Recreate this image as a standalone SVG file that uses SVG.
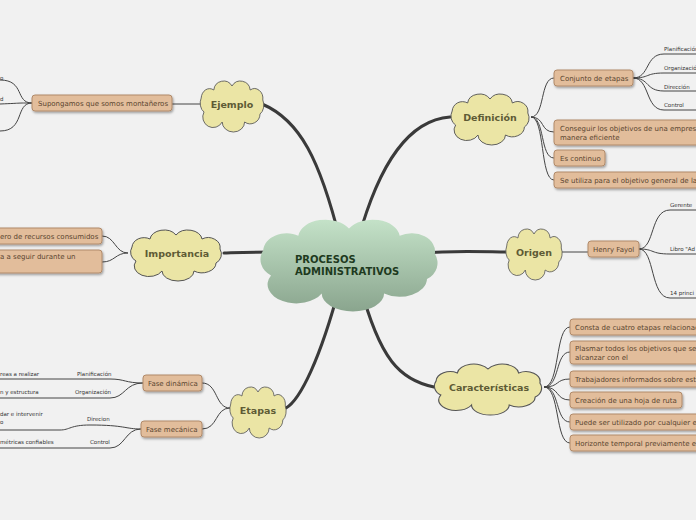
<svg xmlns="http://www.w3.org/2000/svg" width="696" height="520" viewBox="0 0 696 520">
<defs>
<linearGradient id="cg" x1="0" y1="0" x2="0" y2="1"><stop offset="0" stop-color="#c4e2c8"/><stop offset="1" stop-color="#8aa58e"/></linearGradient>
<filter id="sh" x="-10%" y="-20%" width="120%" height="150%"><feDropShadow dx="1" dy="1.5" stdDeviation="0.8" flood-color="#000" flood-opacity="0.35"/></filter>
<path id="cloud" d="M-40,8 A10,10 0 0 1 -44,-6 A12,10 0 0 1 -26,-14 A14,10 0 0 1 0,-18 A14,10 0 0 1 26,-14 A12,10 0 0 1 44,-4 A10,10 0 0 1 40,10 A14,10 0 0 1 18,18 A16,10 0 0 1 -14,18 A14,10 0 0 1 -40,8 Z"/>
</defs>
<style>
.bg{fill:#f1f1f1}
.cl{fill:#ebe5a5;stroke:#555;stroke-width:1}
.ct{font-family:"DejaVu Sans",sans-serif;font-weight:bold;font-size:9.5px;fill:#5e5b35;text-anchor:middle}
.bx{fill:#e2bd9b;stroke:#b08a6a;stroke-width:1;filter:url(#sh)}
.bt{font-family:"DejaVu Sans",sans-serif;font-size:7px;fill:#5a4530}
.lf{font-family:"DejaVu Sans",sans-serif;font-size:5.5px;fill:#333}
.c{fill:none;stroke:#444;stroke-width:1}
.m{fill:none;stroke:#3a3a3a;stroke-width:3;stroke-linecap:round}
</style>
<rect class="bg" width="696" height="520"/>
<g id="connectors">
<path class="m" d="M340,240 C320,160 300,120 262,104"/>
<path class="m" d="M358,240 C380,160 410,120 450,117"/>
<path class="m" d="M420,253 C460,250 490,252 506,252"/>
<path class="m" d="M275,252 C240,252 230,253 224,253"/>
<path class="m" d="M340,285 C320,360 300,400 286,408"/>
<path class="m" d="M360,285 C380,360 400,380 434,387"/>
<path class="c" d="M200,104 H172"/>
<path class="c" d="M32,103 C15,103 25,80 0,80 M32,103 C15,103 25,103 0,104 M32,103 C15,103 25,131 0,131"/>
<path class="c" d="M531,117 C545,117 540,78 554,78 M531,117 C545,117 540,132 554,132 M531,117 C545,117 540,158 554,158 M531,117 C545,117 540,180 554,180"/>
<path class="c" d="M633,78 C650,78 645,54 664,54 H700 M633,78 C650,78 645,73 664,73 H700 M633,78 C650,78 645,91 664,91 H700 M633,78 C650,78 645,110 664,110 H700"/>
<path class="c" d="M562,252 H588"/>
<path class="c" d="M639,249 C655,249 650,210 670,210 H700 M639,249 C655,249 650,254 670,254 H700 M639,249 C655,249 650,298 670,298 H700"/>
<path class="c" d="M128,253 C115,253 115,236 102,236 M128,253 C115,253 115,262 102,262"/>
<path class="c" d="M230,408 C215,408 218,383 202,383 M230,408 C215,408 218,429 202,429"/>
<path class="c" d="M143,383 C125,383 125,379 110,379 H0 M143,383 C125,383 125,398 110,398 H0 M141,429 C125,429 125,425 90,425 C70,425 70,430 60,430 H0 M141,429 C125,429 125,448 110,448 H0"/>
<path class="c" d="M544,387 C560,387 555,327 570,327 M544,387 C560,387 555,352 570,352 M544,387 C560,387 555,379 570,379 M544,387 C560,387 555,400 570,400 M544,387 C560,387 555,422 570,422 M544,387 C560,387 555,443 570,443"/>
</g>
<g id="center"><use href="#cloud" transform="translate(349,261) scale(1.95,1.8)" fill="url(#cg)"/>
<text x="295" y="263" font-family="DejaVu Sans,sans-serif" font-weight="bold" font-size="10" fill="#1e3a1e">PROCESOS</text>
<text x="295" y="275" font-family="DejaVu Sans,sans-serif" font-weight="bold" font-size="10" fill="#1e3a1e">ADMINISTRATIVOS</text></g>
<g id="ejemplo"><use href="#cloud" class="cl" transform="translate(232,104) scale(0.7,1)"/><text class="ct" x="232" y="108">Ejemplo</text></g>
<g id="definicion"><use href="#cloud" class="cl" transform="translate(490,117) scale(0.86,1)"/><text class="ct" x="490" y="121">Definición</text></g>
<g id="origen"><use href="#cloud" class="cl" transform="translate(534,252) scale(0.62,1)"/><text class="ct" x="534" y="256">Origen</text></g>
<g id="importancia"><use href="#cloud" class="cl" transform="translate(176,253) scale(1,1)"/><text class="ct" x="177" y="257">Importancia</text></g>
<g id="etapas"><use href="#cloud" class="cl" transform="translate(258,410) scale(0.62,1)"/><text class="ct" x="258" y="414">Etapas</text></g>
<g id="caracteristicas"><use href="#cloud" class="cl" transform="translate(488,387) scale(1.18,1)"/><text class="ct" x="489" y="391">Características</text></g>
<g id="supongamos"><rect class="bx" x="32" y="95" width="140" height="16" rx="3"/><text class="bt" x="38" y="106">Supongamos que somos montañeros</text></g>
<g id="ej-leaves"><text class="lf" x="0" y="80">o</text><text class="lf" x="0" y="101">d</text></g>
<g id="conjunto"><rect class="bx" x="554" y="70" width="79" height="16" rx="3"/><text class="bt" x="560" y="81">Conjunto de etapas</text></g>
<g id="etapas-def"><text class="lf" x="664" y="51">Planificación</text><text class="lf" x="664" y="70">Organización</text><text class="lf" x="664" y="89">Dirección</text><text class="lf" x="664" y="107">Control</text></g>
<g id="conseguir"><rect class="bx" x="554" y="120" width="150" height="25" rx="3"/><text class="bt" x="560" y="131">Conseguir los objetivos de una empresa de</text><text class="bt" x="560" y="140">manera eficiente</text></g>
<g id="continuo"><rect class="bx" x="554" y="150" width="51" height="16" rx="3"/><text class="bt" x="560" y="161">Es continuo</text></g>
<g id="utiliza"><rect class="bx" x="554" y="172" width="150" height="16" rx="3"/><text class="bt" x="560" y="183">Se utiliza para el objetivo general de la</text></g>
<g id="fayol"><rect class="bx" x="588" y="241" width="51" height="16" rx="3"/><text class="bt" x="593" y="252">Henry Fayol</text></g>
<g id="fayol-leaves"><text class="lf" x="670" y="207">Gerente</text><text class="lf" x="670" y="251">Libro "Ad</text><text class="lf" x="670" y="295">14 princi</text></g>
<g id="imp1"><rect class="bx" x="-6" y="228" width="108" height="16" rx="3"/><text class="bt" x="0" y="239">ero de recursos consumidos</text></g>
<g id="imp2"><rect class="bx" x="-6" y="250" width="108" height="23" rx="3"/><text class="bt" x="0" y="259">a a seguir durante un</text></g>
<g id="dinamica"><rect class="bx" x="143" y="375" width="59" height="16" rx="3"/><text class="bt" x="148" y="386">Fase dinámica</text></g>
<g id="mecanica"><rect class="bx" x="141" y="421" width="61" height="16" rx="3"/><text class="bt" x="146" y="432">Fase mecánica</text></g>
<g id="fase-leaves"><text class="lf" x="77" y="376">Planificación</text><text class="lf" x="0" y="376">reas a realizar</text>
<text class="lf" x="75" y="394">Organización</text><text class="lf" x="0" y="394">n y estructura</text>
<text class="lf" x="87" y="421">Direcion</text><text class="lf" x="0" y="416">dar e intervenir</text><text class="lf" x="0" y="424">o</text>
<text class="lf" x="90" y="444">Control</text><text class="lf" x="0" y="444">métricas confiables</text></g>
<g id="car1"><rect class="bx" x="570" y="319" width="134" height="16" rx="3"/><text class="bt" x="575" y="330">Consta de cuatro etapas relacionadas</text></g>
<g id="car2"><rect class="bx" x="570" y="341" width="134" height="23" rx="3"/><text class="bt" x="575" y="351">Plasmar todos los objetivos que se desean</text><text class="bt" x="575" y="360">alcanzar con el</text></g>
<g id="car3"><rect class="bx" x="570" y="371" width="134" height="16" rx="3"/><text class="bt" x="575" y="382">Trabajadores informados sobre esto</text></g>
<g id="car4"><rect class="bx" x="570" y="392" width="112" height="16" rx="3"/><text class="bt" x="575" y="403">Creación de una hoja de ruta</text></g>
<g id="car5"><rect class="bx" x="570" y="414" width="134" height="16" rx="3"/><text class="bt" x="575" y="425">Puede ser utilizado por cualquier empresa</text></g>
<g id="car6"><rect class="bx" x="570" y="435" width="134" height="16" rx="3"/><text class="bt" x="575" y="446">Horizonte temporal previamente establecido</text></g>
</svg>
